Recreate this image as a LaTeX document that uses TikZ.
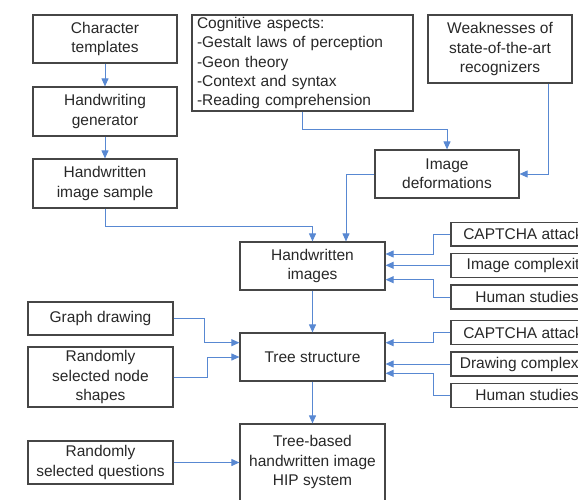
\documentclass[tikz,border=0pt]{standalone}
\usepackage{fontspec}
\setmainfont{Liberation Sans}
\usetikzlibrary{arrows.meta,calc}

\definecolor{boxline}{RGB}{70,70,70}
\definecolor{inkgray}{RGB}{40,40,40}
\definecolor{linkblue}{RGB}{88,136,210}

\tikzset{
  box/.style={draw=boxline, line width=1.2pt, fill=white, inner sep=2pt, text=inkgray,
    align=center, font=\fontsize{15.5}{19.2}\selectfont},
  txt/.style={inner sep=0pt, align=center, text=inkgray, font=\fontsize{15.5}{19.2}\selectfont},
  conn/.style={draw=linkblue, line width=1pt,
    -{Triangle[length=8pt,width=7pt,fill=linkblue]}},
}

\begin{document}
\begin{tikzpicture}[x=1pt,y=-1pt]
\useasboundingbox (0,0) rectangle (578,500);
\clip (0,0) rectangle (578,500);

% left column: generation pipeline
\node[box, minimum width=144, minimum height=48] (char) at (105,39) {Character\\templates};
\node[box, minimum width=144, minimum height=49] (gen) at (105,111.5) {Handwriting\\generator};
\node[box, minimum width=144, minimum height=49] (sample) at (105,183.5) {Handwritten\\image sample};

% top: inputs to the deformations
\node[box, minimum width=221, minimum height=96, text width=211, align=left] (cog) at (302.5,63)
  {Cognitive aspects:\\-Gestalt laws of perception\\-Geon theory\\-Context and syntax\\-Reading comprehension};
\node[box, minimum width=144, minimum height=68] (weak) at (500,49) {Weaknesses of\\state-of-the-art\\recognizers};
\node[box, minimum width=144, minimum height=48] (deform) at (447,174) {Image\\deformations};

% central column
\node[box, minimum width=145, minimum height=48] (himg) at (312.5,266) {Handwritten\\images};
\node[box, minimum width=145, minimum height=48] (tree) at (312.5,357) {Tree structure};
\node[box, minimum width=145, minimum height=84] (hip) at (312.5,466) {};
\node[txt] (hiptext) at (312.5,462) {Tree-based\\handwritten image\\HIP system};

% left inputs to the tree
\node[box, minimum width=145, minimum height=33] (graph) at (100.5,318.5) {Graph drawing};
\node[box, minimum width=145, minimum height=60] (shapes) at (100.5,377) {Randomly\\selected node\\shapes};
\node[box, minimum width=145, minimum height=43] (quest) at (100.5,462.5) {Randomly\\selected questions};

% right-hand evaluation boxes (they run past the right edge)
\node[box, minimum width=152, minimum height=23.5, inner sep=1pt] (ca1) at (527,234.3) {CAPTCHA attacks};
\node[box, minimum width=152, minimum height=24, inner sep=1pt] (ic) at (527,265.3) {Image complexity};
\node[box, minimum width=152, minimum height=24, inner sep=1pt] (hs1) at (527,297) {Human studies};
\node[box, minimum width=152, minimum height=24, inner sep=1pt] (ca2) at (527,332.8) {CAPTCHA attacks};
\node[box, minimum width=152, minimum height=24, inner sep=1pt] (dc) at (527,364) {Drawing complexity};
\node[box, minimum width=152, minimum height=24, inner sep=1pt] (hs2) at (527,395.3) {Human studies};

% connectors
\draw[conn] (char.south) -- (gen.north);
\draw[conn] (gen.south) -- (sample.north);
\draw[conn] (sample.south) -- ++(0,18) -| (himg.north);
\draw[conn] (cog.south) -- ++(0,17.7) -| (deform.north);
\draw[conn] ($(weak.south)+(48.3,0)$) |- (deform.east);
\draw[conn] (deform.west) -| ($(himg.north)+(33.5,0)$);

\draw[conn] (ca1.west) -- ++(-17,0) |- ($(himg.east)+(0,-12)$);
\draw[conn] (ic.west) -- (ic.west -| himg.east);
\draw[conn] (hs1.west) -- ++(-17,0) |- ($(himg.east)+(0,13.7)$);

\draw[conn] (ca2.west) -- ++(-17,0) |- ($(tree.east)+(0,-14.3)$);
\draw[conn] (dc.west) -- (dc.west -| tree.east);
\draw[conn] (hs2.west) -- ++(-17,0) |- ($(tree.east)+(0,16.3)$);

\draw[conn] (himg.south) -- (tree.north);
\draw[conn] (tree.south) -- (hip.north);

\draw[conn] (graph.east) -- ++(31,0) |- ($(tree.west)+(0,-14.3)$);
\draw[conn] (shapes.east) -- ++(33.7,0) |- (tree.west);
\draw[conn] (quest.east) -- (quest.east -| hip.west);
\end{tikzpicture}
\end{document}
